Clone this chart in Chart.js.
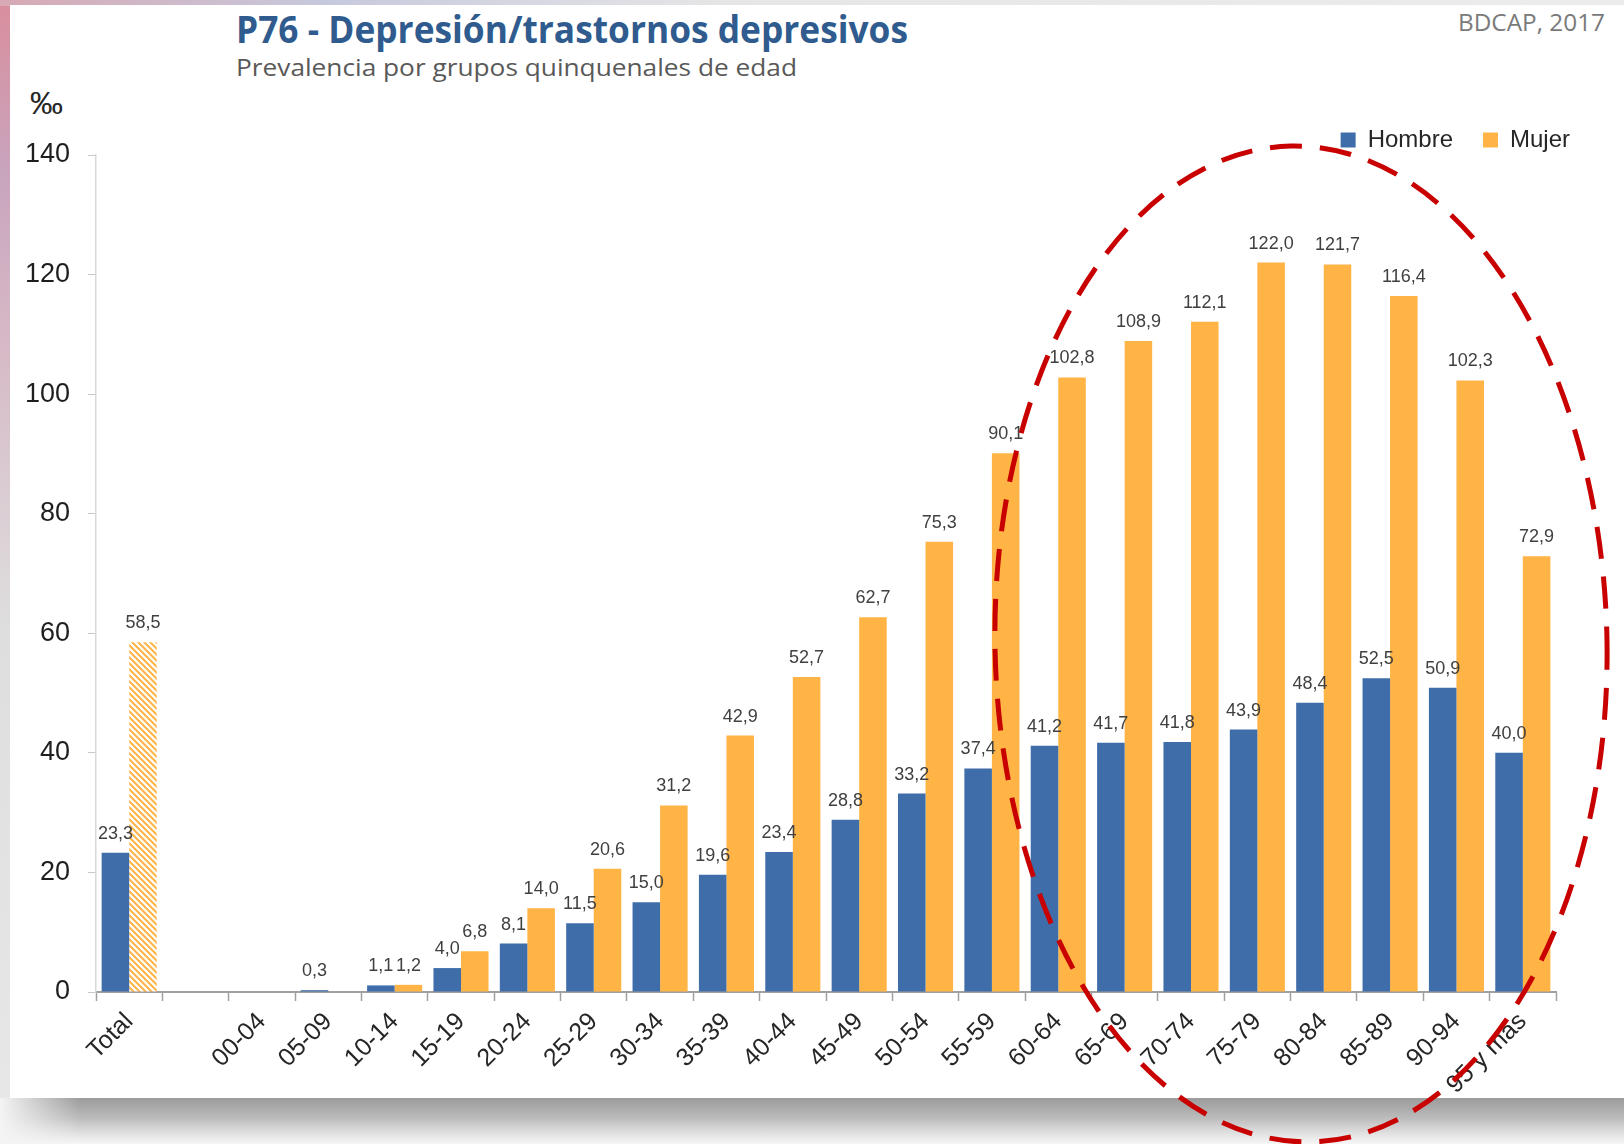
<!DOCTYPE html>
<html>
<head>
<meta charset="utf-8">
<script src="https://cdn.jsdelivr.net/npm/chart.js@4.4.1/dist/chart.umd.min.js"></script>
<style>
  html, body { margin: 0; padding: 0; }
  body {
    width: 1624px; height: 1144px; position: relative; overflow: hidden;
    background: #ececec; font-family: "Open Sans", sans-serif;
  }
  #leftStrip {
    position: absolute; left: 0; top: 0; width: 14px; height: 1144px;
    background: linear-gradient(#d98e9c 0%, #c9a4bd 15%, #d6b9c6 30%, #dedede 55%, #e8e8e8 100%);
  }
  #topStrip {
    position: absolute; left: 0; top: 0; width: 1624px; height: 6px;
    background: linear-gradient(90deg, #d7a9b4 0%, #c7c9dd 20%, #e6e6e6 45%, #ececec 100%);
  }
  #card {
    position: absolute; left: 10px; top: 5px; width: 1614px; height: 1093px; background: #fff;
  }
  #shadow {
    position: absolute; left: 0; top: 1098px; width: 1624px; height: 46px;
    background: linear-gradient(#9c9c9c 0%, #a9a9a9 20%, #bdbdbd 45%, #d4d4d4 65%, #e9e9e9 85%, #f6f6f6 100%);
  }
  #shadowFade {
    position: absolute; left: 0; top: 1098px; width: 80px; height: 46px;
    background: linear-gradient(90deg, #f4f4f4 0%, rgba(244,244,244,0) 100%);
  }
  .txt { position: absolute; white-space: nowrap; transform-origin: 0 0; }
  #title { left: 236px; top: 2px; font-size: 38px; font-weight: 700; color: #2f5b8e; }
  #subtitle { left: 236px; top: 50px; font-size: 24px; color: #595959; }
  #source { left: 1458px; top: 6px; font-size: 23px; color: #7a7a7a; }
  #unit { left: 30px; top: 86px; font-size: 31px; color: #262626; font-family: "Liberation Sans", Arial, sans-serif; }
  canvas { position: absolute; left: 0; top: 0; }
</style>
</head>
<body>
<div id="leftStrip"></div>
<div id="topStrip"></div>
<div id="card"></div>
<div id="shadow"></div>
<div id="shadowFade"></div>
<div class="txt" id="title" data-w="672">P76 - Depresión/trastornos depresivos</div>
<div class="txt" id="subtitle" data-w="561">Prevalencia por grupos quinquenales de edad</div>
<div class="txt" id="source" data-w="147">BDCAP, 2017</div>
<div class="txt" id="unit" data-w="33">‰</div>
<canvas id="prevChart" width="1624" height="1144"></canvas>
<script>
// fit header texts to the widths seen in the reference
document.querySelectorAll(".txt[data-w]").forEach((el) => {
  const w = el.getBoundingClientRect().width;
  el.style.transform = `scaleX(${el.dataset.w / w})`;
});

const categories = [
  "Total", "", "00-04", "05-09", "10-14", "15-19", "20-24", "25-29", "30-34",
  "35-39", "40-44", "45-49", "50-54", "55-59", "60-64", "65-69", "70-74",
  "75-79", "80-84", "85-89", "90-94", "95 y más",
];
const hombre = [
  23.3, null, null, 0.3, 1.1, 4.0, 8.1, 11.5, 15.0, 19.6, 23.4, 28.8, 33.2,
  37.4, 41.2, 41.7, 41.8, 43.9, 48.4, 52.5, 50.9, 40.0,
];
const mujer = [
  58.5, null, null, null, 1.2, 6.8, 14.0, 20.6, 31.2, 42.9, 52.7, 62.7, 75.3,
  90.1, 102.8, 108.9, 112.1, 122.0, 121.7, 116.4, 102.3, 72.9,
];
const yTicks = [0, 20, 40, 60, 80, 100, 120, 140];

const BLUE = "#3e6da9";
const ORANGE = "#ffb445";
const NARROW = "'Liberation Sans Narrow', 'Arial Narrow', 'Liberation Sans', sans-serif";

// hatched fill for the "Total" women bar
const tile = document.createElement("canvas");
tile.width = 6;
tile.height = 6;
const tctx = tile.getContext("2d");
tctx.fillStyle = "#fff";
tctx.fillRect(0, 0, 6, 6);
tctx.strokeStyle = ORANGE;
tctx.lineWidth = 2;
tctx.beginPath();
tctx.moveTo(-1, -1); tctx.lineTo(7, 7);
tctx.moveTo(5, -1); tctx.lineTo(7, 1);
tctx.moveTo(-1, 5); tctx.lineTo(1, 7);
tctx.stroke();
const ctx = document.getElementById("prevChart").getContext("2d");
const hatch = ctx.createPattern(tile, "repeat");

const valueLabels = {
  id: "valueLabels",
  afterDatasetsDraw(chart) {
    const { ctx } = chart;
    ctx.save();
    ctx.font = `18px ${NARROW}`;
    ctx.fillStyle = "#404040";
    ctx.textAlign = "center";
    ctx.textBaseline = "alphabetic";
    chart.data.datasets.forEach((ds, i) => {
      chart.getDatasetMeta(i).data.forEach((bar, j) => {
        const v = ds.data[j];
        if (v == null) return;
        ctx.fillText(v.toFixed(1).replace(".", ","), bar.x, bar.y - 14);
      });
    });
    ctx.restore();
  },
};

// red dashed ellipse around the older age groups
const highlight = {
  id: "highlight",
  afterLayout(chart) {
    // nudge legend to where it sits in the original
    chart.legend.top += 7;
    chart.legend.right += 44;
  },
  afterDraw(chart) {
    const { ctx, chartArea } = chart;
    ctx.save();
    ctx.strokeStyle = "#c80000";
    ctx.lineWidth = 5;
    ctx.setLineDash([32, 18]);
    ctx.beginPath();
    ctx.ellipse(chartArea.right - 255, chartArea.top + 489, 306, 498, -0.02, 0, Math.PI * 2);
    ctx.stroke();
    ctx.restore();
  },
};

new Chart(ctx, {
  type: "bar",
  data: {
    labels: categories,
    datasets: [
      {
        label: "Hombre",
        data: hombre,
        backgroundColor: BLUE,
        barPercentage: 1.0,
        categoryPercentage: 0.83,
      },
      {
        label: "Mujer",
        data: mujer,
        backgroundColor: (c) => (c.dataIndex === 0 ? hatch : ORANGE),
        barPercentage: 1.0,
        categoryPercentage: 0.83,
      },
    ],
  },
  options: {
    responsive: false,
    animation: false,
    layout: { padding: { top: 91, right: 68, left: 0, bottom: 0 } },
    plugins: {
      legend: {
        position: "top",
        align: "end",
        labels: {
          boxWidth: 15,
          boxHeight: 15,
          padding: 30,
          color: "#262626",
          font: { size: 24, family: NARROW },
          generateLabels: (chart) =>
            Chart.defaults.plugins.legend.labels.generateLabels(chart).map((item, i) => ({
              ...item,
              fillStyle: i === 0 ? BLUE : ORANGE,
              strokeStyle: i === 0 ? BLUE : ORANGE,
              lineWidth: 0,
            })),
        },
      },
      tooltip: { enabled: false },
    },
    scales: {
      x: {
        afterFit: (s) => { s.height = 152; },
        grid: {
          drawOnChartArea: false,
          tickLength: 9,
          tickColor: "#a0a0a0",
          tickWidth: 1.5,
        },
        border: { color: "#a0a0a0", width: 2 },
        ticks: {
          autoSkip: false,
          maxRotation: 45,
          minRotation: 45,
          padding: 6,
          color: "#262626",
          font: { size: 25, family: NARROW },
        },
      },
      y: {
        min: 0,
        max: 140,
        afterFit: (s) => { s.width = 96; },
        afterBuildTicks: (s) => { s.ticks = yTicks.map((v) => ({ value: v })); },
        grid: {
          drawOnChartArea: false,
          tickLength: 8,
          tickColor: "#c8c8c8",
        },
        border: { color: "#d9d9d9", width: 1.5 },
        ticks: {
          padding: 18,
          color: "#1e1e1e",
          font: { size: 27, family: NARROW },
        },
      },
    },
  },
  plugins: [valueLabels, highlight],
});
</script>
</body>
</html>
